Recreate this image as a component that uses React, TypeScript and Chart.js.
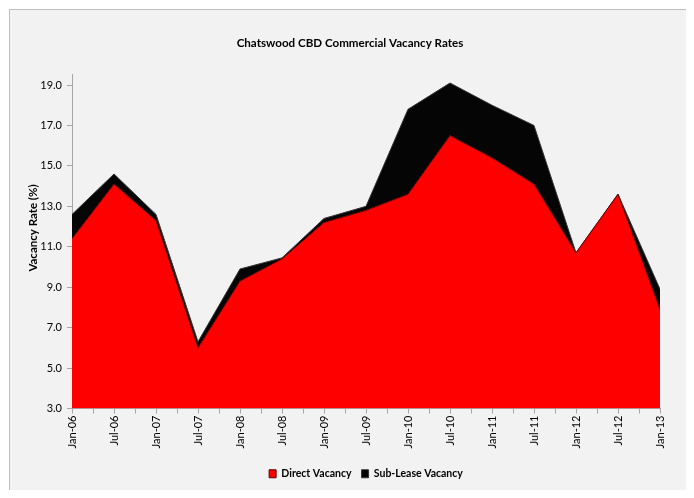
import React, { useEffect, useRef } from "react";
import { Chart, registerables } from "chart.js";
Chart.register(...registerables);

const categories = ["Jan-06","Jul-06","Jan-07","Jul-07","Jan-08","Jul-08","Jan-09","Jul-09","Jan-10","Jul-10","Jan-11","Jul-11","Jan-12","Jul-12","Jan-13"];
const directVacancy = [11.4, 14.1, 12.3, 6.0, 9.3, 10.4, 12.2, 12.8, 13.6, 16.5, 15.4, 14.1, 10.7, 13.6, 7.9];
const subLeaseVacancy = [1.2, 0.5, 0.3, 0.3, 0.6, 0.05, 0.2, 0.2, 4.2, 2.6, 2.6, 2.9, 0.0, 0.0, 1.0];
const yTicks = [3, 5, 7, 9, 11, 13, 15, 17, 19];
const title = "Chatswood CBD Commercial Vacancy Rates";
const yTitle = "Vacancy Rate (%)";

const FONT = "Lato, 'Open Sans', sans-serif";
const AXIS = "#a6a6a6";

const placement = {
  id: "placement",
  afterLayout(chart: any) {
    const t = chart.titleBlock;
    if (t) {
      t.left += 20;
      t.right += 20;
    }
    const l = chart.legend;
    if (l) {
      l.left += 36;
      l.right += 36;
    }
  },
  afterDraw(chart: any) {
    const ctx = chart.ctx;
    ctx.save();
    ctx.translate(33, 228);
    ctx.rotate(-Math.PI / 2);
    ctx.font = `bold 11.5px ${FONT}`;
    ctx.fillStyle = "#000";
    ctx.textAlign = "center";
    ctx.textBaseline = "middle";
    ctx.fillText(yTitle, 0, 0);
    ctx.restore();
  },
};

export default function App() {
  const ref = useRef<HTMLCanvasElement | null>(null);
  useEffect(() => {
    if (!ref.current) return;
    const chart = new Chart(ref.current, {
      type: "line",
      plugins: [placement],
      data: {
        datasets: [
          {
            label: "Direct Vacancy",
            data: directVacancy.map((v, i) => ({ x: i, y: v })),
            backgroundColor: "#ff0000",
            borderColor: "#5a0000",
            borderWidth: 1,
            fill: "origin",
            pointRadius: 0,
            tension: 0,
          },
          {
            label: "Sub-Lease Vacancy",
            data: subLeaseVacancy.map((v, i) => ({ x: i, y: v })),
            backgroundColor: "#050505",
            borderColor: "#333333",
            borderWidth: 1,
            fill: "-1",
            pointRadius: 0,
            tension: 0,
          },
        ],
      },
      options: {
        animation: false,
        responsive: false,
        maintainAspectRatio: false,
        layout: { padding: { top: 0, right: 34, bottom: 9, left: 0 } },
        plugins: {
          title: {
            display: true,
            text: title,
            color: "#000",
            font: { family: FONT, size: 11.6, weight: "bold" },
            padding: { top: 36, bottom: 25 },
          },
          legend: {
            position: "bottom",
            labels: {
              boxWidth: 7,
              boxHeight: 8,
              color: "#000",
              padding: 10,
              font: { family: FONT, size: 10.5, weight: "bold" },
            },
          },
          tooltip: { enabled: false },
        },
        scales: {
          x: {
            type: "linear",
            min: 0,
            max: 14,
            afterBuildTicks: (s: any) => {
              const t = [];
              for (let i = 0; i <= categories.length - 1; i += 0.5) t.push({ value: i });
              s.ticks = t;
            },
            afterFit: (s: any) => {
              s.height = 50;
            },
            ticks: {
              autoSkip: false,
              minRotation: 90,
              maxRotation: 90,
              padding: 2,
              color: "#000",
              font: { family: FONT, size: 11 },
              callback: (v: any) => (Number.isInteger(v) ? categories[v] : ""),
            },
            grid: { drawOnChartArea: false, tickLength: 5, color: AXIS },
            border: { color: AXIS },
          },
          y: {
            stacked: true,
            min: 3,
            max: 19.5,
            afterBuildTicks: (s: any) => {
              s.ticks = yTicks.map((v) => ({ value: v }));
            },
            afterFit: (s: any) => {
              s.width = 72;
            },
            ticks: {
              padding: 5,
              color: "#000",
              font: { family: FONT, size: 11 },
              callback: (v: any) => Number(v).toFixed(1),
            },
            grid: { drawOnChartArea: false, tickLength: 5, color: AXIS },
            border: { color: AXIS },
          },
        },
      },
    });
    return () => chart.destroy();
  }, []);

  return (
    <div style={{ position: "relative", width: 694, height: 498, margin: -8, overflow: "hidden", background: "#fff" }}>
      <div
        style={{
          position: "absolute",
          left: 9,
          top: 9,
          width: 678,
          height: 500,
          border: "1px solid #bfbfbf",
          background: "#f2f2f2",
        }}
      />
      <canvas
        ref={ref}
        width={694}
        height={498}
        style={{ position: "absolute", left: 0, top: 0, width: 694, height: 498 }}
      />
    </div>
  );
}
